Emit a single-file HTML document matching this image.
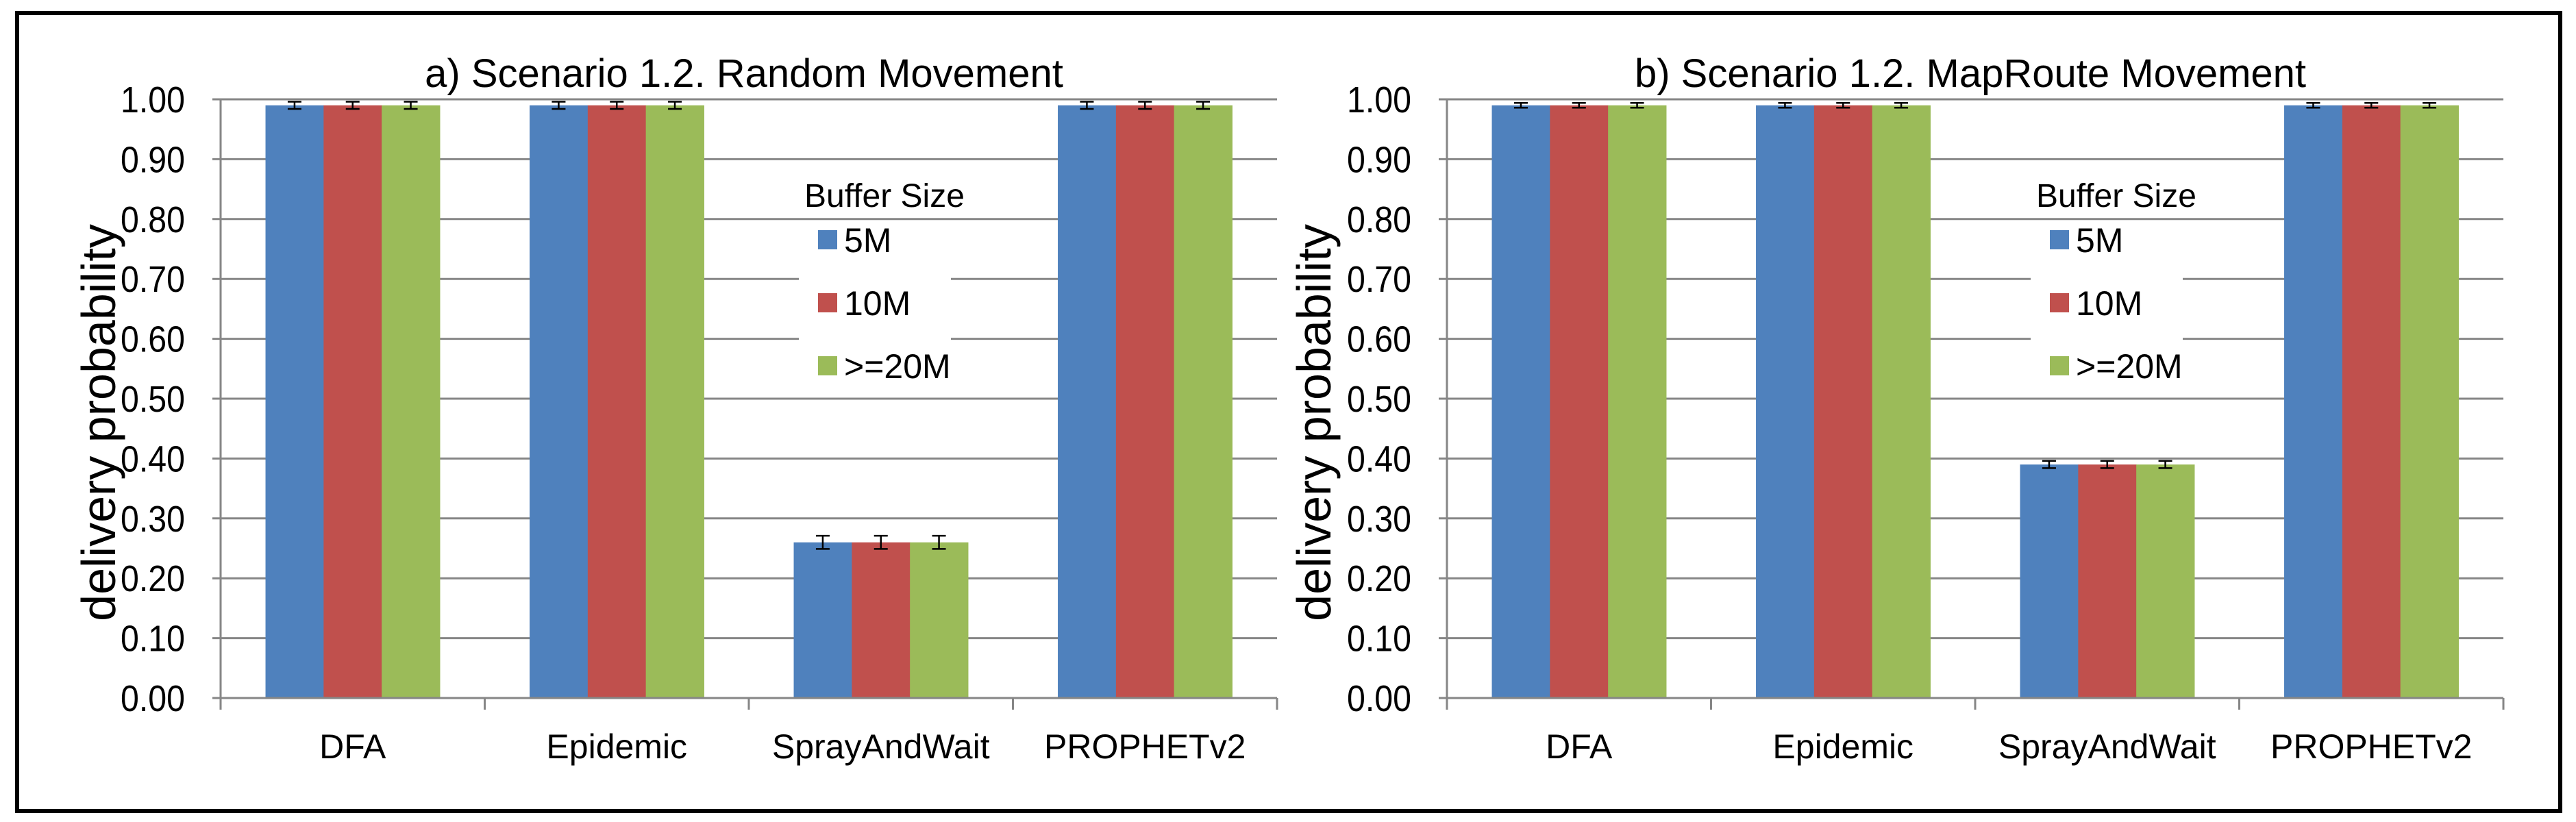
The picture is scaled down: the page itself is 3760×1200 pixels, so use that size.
<!DOCTYPE html>
<html><head><meta charset="utf-8"><style>
html,body{margin:0;padding:0;background:#fff;}
svg{display:block;}
text{font-family:"Liberation Sans Narrow","Liberation Sans",sans-serif;fill:#000;}
</style></head><body>
<svg id="chart" width="3760" height="1200" viewBox="0 0 3760 1200" xmlns="http://www.w3.org/2000/svg">
<rect x="25" y="19" width="3712" height="1165" fill="#fff" stroke="#000" stroke-width="6"/>
<g id="panels"></g>
</svg>
<script>
const categories = ["DFA","Epidemic","SprayAndWait","PROPHETv2"];
const seriesNames = ["5M","10M",">=20M"];
const seriesColors = ["#4F81BD","#C0504D","#9BBB59"];
const yTicks = [0,0.1,0.2,0.3,0.4,0.5,0.6,0.7,0.8,0.9,1.0];
const titleA = "a) Scenario 1.2. Random Movement";
const titleB = "b) Scenario 1.2. MapRoute Movement";
const valuesA = [[0.99,0.99,0.26,0.99],[0.99,0.99,0.26,0.99],[0.99,0.99,0.26,0.99]];
const errorsA = [[0.006,0.006,0.011,0.006],[0.006,0.006,0.011,0.006],[0.006,0.006,0.011,0.006]];
const valuesB = [[0.99,0.99,0.39,0.99],[0.99,0.99,0.39,0.99],[0.99,0.99,0.39,0.99]];
const errorsB = [[0.004,0.004,0.006,0.004],[0.004,0.004,0.006,0.004],[0.004,0.004,0.006,0.004]];

const NS = "http://www.w3.org/2000/svg";
const root = document.getElementById("panels");
function mk(tag, attrs, parent){
  const e = document.createElementNS(NS, tag);
  for (const k in attrs) e.setAttribute(k, attrs[k]);
  (parent||root).appendChild(e);
  return e;
}
function panel(cfg){
  const g = mk("g", {});
  
  
  const x0 = cfg.x0, x1 = cfg.x1, yTop = 145, yBot = 1019;
  const yS = v => yBot - (v/1.0)*(yBot - yTop);
  const gw = (x1 - x0)/categories.length;
  const xS = (ci, si) => x0 + ci*gw + gw*0.17 + si*(gw*0.22);
  const bw = gw*0.22;
  yTicks.forEach((t,i)=>{
    const l = mk("line",{x1:x0-12,x2:x1,y1:yS(t),y2:yS(t),stroke:"#868686","stroke-width":3},g);
    
    
    const tx = mk("text",{x:x0-52,y:yS(t)+19,"text-anchor":"end","font-size":54,textLength:94,lengthAdjust:"spacingAndGlyphs"},g);
    tx.textContent = t.toFixed(2);
    
    
  });
  const ax = mk("line",{x1:x0,x2:x0,y1:yTop,y2:yBot+17,stroke:"#868686","stroke-width":3},g);
  
  
  for (let i=0;i<=categories.length;i++){
    const t = mk("line",{x1:x0+i*gw,x2:x0+i*gw,y1:yBot,y2:yBot+17,stroke:"#868686","stroke-width":3},g);
    
    
  }
  const lb = mk("rect",{x:cfg.legX-14,y:330,width:222,height:240,fill:"#fff"},g);
  
  
  cfg.values.forEach((ser,si)=>{
    ser.forEach((v,ci)=>{
      const r = mk("rect",{x:xS(ci,si),y:yS(v),width:bw+0.5,height:yBot-yS(v),fill:seriesColors[si]},g);
      
      
      const e = cfg.errors[si][ci], cx = xS(ci,si)+bw/2;
      const eb = mk("path",{d:`M${cx-10},${yS(v+e)}H${cx+10}M${cx},${yS(v+e)}V${yS(v-e)}M${cx-10},${yS(v-e)}H${cx+10}`,stroke:"#000","stroke-width":2.5,fill:"none"},g);
      
      
    });
  });
  const base = mk("line",{x1:x0-12,x2:x1,y1:yBot,y2:yBot,stroke:"#868686","stroke-width":3},g);
  
  
  categories.forEach((c,ci)=>{
    const t = mk("text",{x:x0+ci*gw+gw/2,y:1107,"text-anchor":"middle","font-size":50},g);
    t.textContent = c;
    
    
  });
  const tt = mk("text",{x:cfg.titleX,y:127,"text-anchor":"middle","font-size":58},g);
  tt.textContent = cfg.title;
  
  
  const yt = mk("text",{x:0,y:0,"text-anchor":"middle","font-size":70,transform:`translate(${cfg.yTitleX},617) rotate(-90)`,style:'font-family:"Liberation Sans",sans-serif'},g);
  yt.textContent = "delivery probability";
  
  
  const lt = mk("text",{x:cfg.legX-6,y:302,"font-size":48},g);
  lt.textContent = "Buffer Size";
  
  
  seriesNames.forEach((n,si)=>{
    const yy = 350 + si*92;
    const sq = mk("rect",{x:cfg.legX+14,y:yy-14,width:28,height:28,fill:seriesColors[si]},g);
    
    
    const lx = mk("text",{x:cfg.legX+52,y:yy+18,"font-size":50},g);
    lx.textContent = n;
    
    
  });
}
panel({name:"panel-a",x0:322,x1:1864,values:valuesA,errors:errorsA,title:titleA,titleX:1086,yTitleX:168,legX:1180});
panel({name:"panel-b",x0:2112,x1:3654,values:valuesB,errors:errorsB,title:titleB,titleX:2876,yTitleX:1942,legX:2978});
</script>
</body></html>
